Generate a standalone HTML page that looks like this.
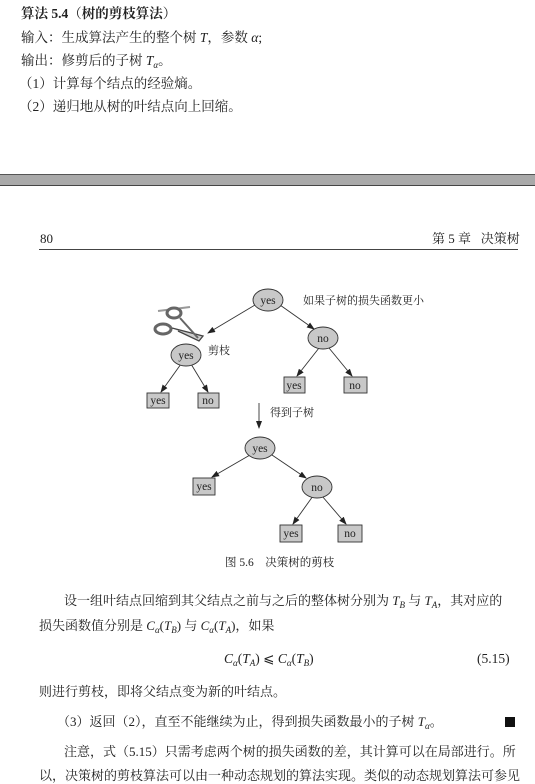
<!DOCTYPE html>
<html><head><meta charset="utf-8"><style>
body{margin:0;width:535px;height:782px;background:#fff;position:relative;overflow:hidden;font-family:"Liberation Serif","Noto Serif CJK SC",serif;color:#222}
.t{position:absolute;white-space:nowrap;font-size:13.5px;line-height:16px}
.b{font-size:13px}
i{font-style:italic}
sub{font-size:9px;vertical-align:-3px;line-height:0}
</style></head><body>
<div class="t" style="left:21px;top:6px;font-weight:bold">算法 5.4<span style="font-weight:normal">（</span>树的剪枝算法<span style="font-weight:normal">）</span></div>
<div class="t" style="left:21px;top:30px">输入：生成算法产生的整个树 <i>T</i>，参数 <i>α</i>;</div>
<div class="t" style="left:21px;top:53px">输出：修剪后的子树 <i>T</i><sub><i>α</i></sub>。</div>
<div class="t" style="left:19px;top:76px">（1）计算每个结点的经验熵。</div>
<div class="t" style="left:19px;top:99px">（2）递归地从树的叶结点向上回缩。</div>

<div style="position:absolute;left:0;top:174px;width:535px;height:10px;background:#a9a9a9;border-top:1.5px solid #555;border-bottom:1.5px solid #444"></div>

<div class="t" style="left:40px;top:231px;font-size:13px">80</div>
<div class="t" style="left:432px;top:231px;font-size:13px">第 5 章&nbsp;&nbsp;&nbsp;决策树</div>
<div style="position:absolute;left:39px;top:249px;width:479px;height:1px;background:#444"></div>

<svg style="position:absolute;left:0;top:0" width="535" height="782">
<defs><marker id="a" markerWidth="8" markerHeight="6" refX="7" refY="3" orient="auto" markerUnits="userSpaceOnUse"><path d="M0,0 L8,3 L0,6z" fill="#222"/></marker></defs>
<g stroke="#333" stroke-width="0.9" fill="none">
<line x1="255" y1="305" x2="208" y2="333" marker-end="url(#a)"/>
<line x1="280" y1="305" x2="314" y2="329" marker-end="url(#a)"/>
<line x1="181" y1="364" x2="161" y2="392" marker-end="url(#a)"/>
<line x1="191" y1="364" x2="208" y2="392" marker-end="url(#a)"/>
<line x1="319" y1="348" x2="297" y2="376" marker-end="url(#a)"/>
<line x1="329" y1="348" x2="352" y2="376" marker-end="url(#a)"/>
<line x1="259" y1="403" x2="259" y2="428" marker-end="url(#a)"/>
<line x1="250" y1="455" x2="212" y2="477" marker-end="url(#a)"/>
<line x1="272" y1="455" x2="306" y2="478" marker-end="url(#a)"/>
<line x1="313" y1="496" x2="293" y2="524" marker-end="url(#a)"/>
<line x1="322" y1="496" x2="346" y2="524" marker-end="url(#a)"/>
</g>
<g fill="#c8c8c8" stroke="#333" stroke-width="0.9">
<ellipse cx="268" cy="300" rx="15" ry="11"/>
<ellipse cx="186" cy="355" rx="15" ry="11"/>
<ellipse cx="323" cy="338" rx="15" ry="11"/>
<ellipse cx="260" cy="448" rx="15" ry="11"/>
<ellipse cx="317" cy="487" rx="15" ry="11"/>
<rect x="147" y="393" width="22" height="15"/>
<rect x="198" y="393" width="21" height="15"/>
<rect x="284" y="377" width="21" height="16"/>
<rect x="344" y="377" width="23" height="16"/>
<rect x="193" y="478" width="22" height="17"/>
<rect x="280" y="525" width="22" height="17"/>
<rect x="338" y="525" width="24" height="17"/>
</g>
<g stroke="#444" stroke-width="1.3" fill="none">
<line x1="158" y1="311" x2="190" y2="307" stroke="#999" stroke-width="2"/>
<ellipse cx="174" cy="313" rx="7" ry="5" fill="#fff" stroke="#666" stroke-width="3"/>
<ellipse cx="163" cy="329" rx="8" ry="5" fill="#fff" stroke="#666" stroke-width="3"/>
<path d="M172 328 L203 336 L199 341 L178 331" fill="#ccc"/>
<path d="M180 318 L198 338" stroke="#666" stroke-width="2"/>
</g>
<g font-family="Liberation Serif,serif" font-size="11.5" fill="#222" text-anchor="middle">
<text x="268" y="304">yes</text><text x="186" y="359">yes</text><text x="323" y="342">no</text>
<text x="260" y="452">yes</text><text x="317" y="491">no</text>
<text x="158" y="404">yes</text><text x="208" y="404">no</text>
<text x="294" y="389">yes</text><text x="355" y="389">no</text>
<text x="204" y="490">yes</text><text x="291" y="537">yes</text><text x="350" y="537">no</text>
</g>
<g font-family="Liberation Serif,Noto Serif CJK SC,serif" font-size="11" fill="#222">
<text x="303" y="304">如果子树的损失函数更小</text>
<text x="208" y="354">剪枝</text>
<text x="270" y="416">得到子树</text>
<text x="225" y="566" font-size="11.5">图 5.6&#160;&#160;&#160;&#160;决策树的剪枝</text>
</g>
</svg>

<div class="t b" style="left:64px;top:593px">设一组叶结点回缩到其父结点之前与之后的整体树分别为 <i>T</i><sub><i>B</i></sub> 与 <i>T</i><sub><i>A</i></sub>，其对应的</div>
<div class="t b" style="left:39px;top:618px">损失函数值分别是 <i>C</i><sub><i>α</i></sub>(<i>T</i><sub><i>B</i></sub>) 与 <i>C</i><sub><i>α</i></sub>(<i>T</i><sub><i>A</i></sub>)，如果</div>
<div class="t" style="left:224px;top:651px"><i>C</i><sub><i>α</i></sub>(<i>T</i><sub><i>A</i></sub>) ⩽ <i>C</i><sub><i>α</i></sub>(<i>T</i><sub><i>B</i></sub>)</div>
<div class="t" style="left:477px;top:651px">(5.15)</div>
<div class="t b" style="left:39px;top:684px">则进行剪枝，即将父结点变为新的叶结点。</div>
<div class="t b" style="left:57px;top:714px">（3）返回（2），直至不能继续为止，得到损失函数最小的子树 <i>T</i><sub><i>α</i></sub>。</div>
<div style="position:absolute;left:505px;top:717px;width:10px;height:10px;background:#111"></div>
<div class="t b" style="left:64px;top:744px">注意，式（5.15）只需考虑两个树的损失函数的差，其计算可以在局部进行。所</div>
<div class="t b" style="left:39px;top:768px">以，决策树的剪枝算法可以由一种动态规划的算法实现。类似的动态规划算法可参见</div>
</body></html>
